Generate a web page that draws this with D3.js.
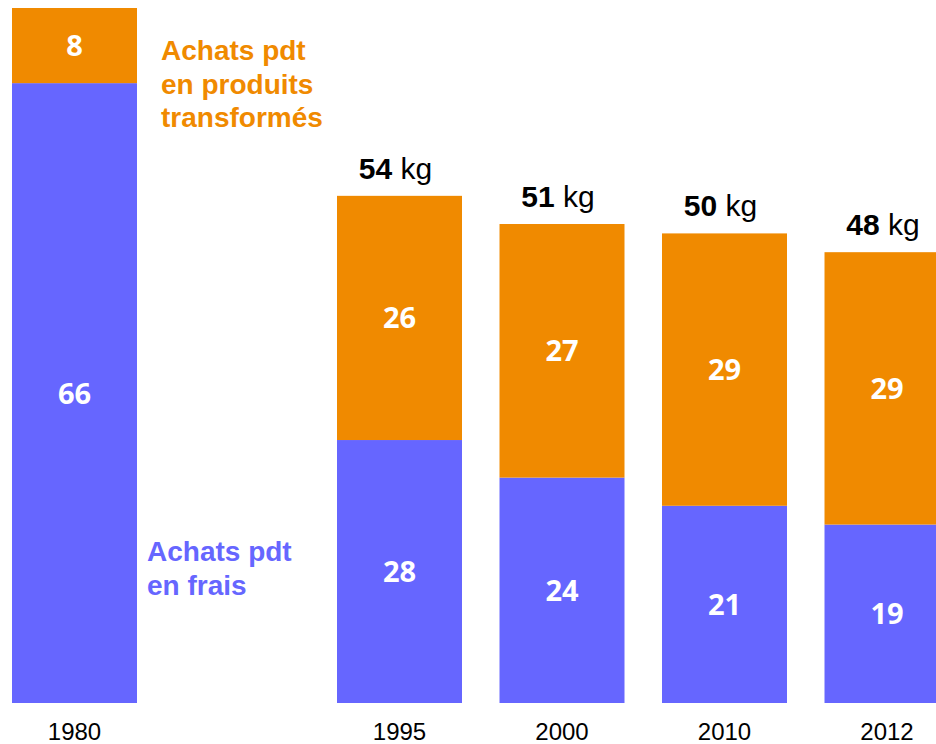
<!DOCTYPE html>
<html lang="fr">
<head>
<meta charset="utf-8">
<style>
    body { margin: 0; background: #fff; }
    text { font-family: "Liberation Sans", Arial, sans-serif; }
    text.seg { font-family: "Open Sans", sans-serif; }
</style>
</head>
<body>
<svg width="936" height="744"></svg>
<script src="https://d3js.org/d3.v7.min.js"></script>
<script>
    var years = ["1980", "", "1995", "2000", "2010", "2012"];
    var frais = [66, null, 28, 24, 21, 19];
    var transformes = [8, null, 26, 27, 29, 29];
    var totals = [null, null, 54, 51, 50, 48];

    var orange = "#F08A00",
        blue = "#6666FF";

    var svg = d3.select("svg");

    var x = d3.scaleBand()
        .domain(d3.range(years.length))
        .range([12, 949.5])
        .paddingInner(0.2308)
        .paddingOuter(0);

    var y = d3.scaleLinear()
        .domain([0, 74])
        .range([703, 8]);

    var data = years.map(function (yr, i) {
        return { year: yr, i: i, frais: frais[i], trans: transformes[i], total: totals[i] };
    }).filter(function (d) { return d.frais !== null; });

    var bars = svg.selectAll(".bar")
        .data(data)
        .enter()
        .append("g")
        .attr("class", "bar");

    function cx(d) { return x(d.i) + x.bandwidth() / 2; }

    // frais (bottom)
    bars.append("rect")
        .attr("x", function (d) { return x(d.i); })
        .attr("width", x.bandwidth())
        .attr("y", function (d) { return y(d.frais); })
        .attr("height", function (d) { return y(0) - y(d.frais); })
        .attr("fill", blue);

    // transformés (top)
    bars.append("rect")
        .attr("x", function (d) { return x(d.i); })
        .attr("width", x.bandwidth())
        .attr("y", function (d) { return y(d.frais + d.trans); })
        .attr("height", function (d) { return y(d.frais) - y(d.frais + d.trans); })
        .attr("fill", orange);

    // segment labels
    bars.append("text")
        .attr("class", "seg")
        .attr("x", cx)
        .attr("y", function (d) { return (y(0) + y(d.frais)) / 2; })
        .attr("dy", "0.36em")
        .attr("text-anchor", "middle")
        .attr("fill", "#fff")
        .attr("font-weight", "bold")
        .attr("font-size", 29)
        .text(function (d) { return d.frais; });

    bars.append("text")
        .attr("class", "seg")
        .attr("x", cx)
        .attr("y", function (d) { return (y(d.frais) + y(d.frais + d.trans)) / 2; })
        .attr("dy", "0.36em")
        .attr("text-anchor", "middle")
        .attr("fill", "#fff")
        .attr("font-weight", "bold")
        .attr("font-size", 29)
        .text(function (d) { return d.trans; });

    // totals
    var tot = bars.filter(function (d) { return d.total !== null; })
        .append("text")
        .attr("x", function (d) { return cx(d) - 4; })
        .attr("y", function (d) { return y(d.frais + d.trans) - 17; })
        .attr("text-anchor", "middle")
        .attr("font-size", 30)
        .attr("fill", "#000");
    tot.append("tspan").attr("font-weight", "bold").text(function (d) { return d.total; });
    tot.append("tspan").text(" kg");

    // year labels
    bars.append("text")
        .attr("x", cx)
        .attr("y", 740)
        .attr("text-anchor", "middle")
        .attr("font-size", 24)
        .attr("fill", "#000")
        .text(function (d) { return d.year; });

    // series labels
    var legTrans = svg.append("text")
        .attr("font-size", 28)
        .attr("font-weight", "bold")
        .attr("fill", orange);
    ["Achats pdt", "en produits", "transformés"].forEach(function (t, k) {
        legTrans.append("tspan").attr("x", 161).attr("y", 60 + k * 33.5).text(t);
    });

    var legFrais = svg.append("text")
        .attr("font-size", 28)
        .attr("font-weight", "bold")
        .attr("fill", blue);
    ["Achats pdt", "en frais"].forEach(function (t, k) {
        legFrais.append("tspan").attr("x", 147).attr("y", 561 + k * 33.5).text(t);
    });
</script>
</body>
</html>
